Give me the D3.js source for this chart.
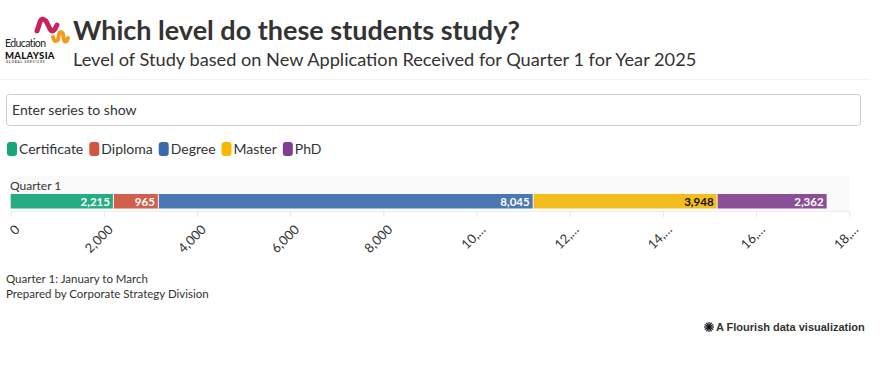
<!DOCTYPE html>
<html>
<head>
<meta charset="utf-8">
<script src="https://cdn.jsdelivr.net/npm/d3@7"></script>
<style>
  html, body { margin: 0; padding: 0; background: #fff; }
  body { width: 891px; height: 369px; overflow: hidden; font-family: Lato, "Open Sans", sans-serif; color: #333; }
  svg { display: block; }
</style>
</head>
<body>
<svg id="chart" width="891" height="369"></svg>
<script>
// ---- data ----
const categories = ["Quarter 1"];
const seriesNames = ["Certificate", "Diploma", "Degree", "Master", "PhD"];
const seriesValues = [[2215], [965], [8045], [3948], [2362]];   // one value per category
const seriesColors = ["#27ab83", "#d05f4b", "#4a78b3", "#f3bd1e", "#8a4f96"];
const legendColors = ["#16a67a", "#d1553f", "#3b69ad", "#f5ba00", "#7d3f92"];
const labelColors = ["#fff", "#fff", "#fff", "#111", "#fff"];
const xTicks = [0, 2000, 4000, 6000, 8000, 10000, 12000, 14000, 16000, 18000];

const svg = d3.select("#chart");
const fmt = d3.format(",");

// ---- header / logo ----
const logo = svg.append("g");
logo.append("path")
  .attr("d", "M37,31 L40,22 Q42,17 46,21 L50,29 Q52,33 55,29 L57,25")
  .attr("fill", "none").attr("stroke", "#c8235a").attr("stroke-width", 5)
  .attr("stroke-linecap", "round").attr("stroke-linejoin", "round");
logo.append("path")
  .attr("d", "M53,37 Q54,43 58,40 L59,34 Q61,30 63,34 L64,40 Q66,44 68,38")
  .attr("fill", "none").attr("stroke", "#f29c1f").attr("stroke-width", 4)
  .attr("stroke-linecap", "round").attr("stroke-linejoin", "round");
logo.append("text").attr("x", 5).attr("y", 47).attr("font-size", 10.5).attr("letter-spacing", -0.6)
  .attr("fill", "#222").text("Education");
logo.append("text").attr("x", 5).attr("y", 58.5).attr("font-size", 9.5).attr("font-weight", 900)
  .attr("letter-spacing", 0.3).attr("fill", "#111").text("MALAYSIA");
logo.append("text").attr("x", 6).attr("y", 63).attr("font-size", 3).attr("font-weight", 700)
  .attr("letter-spacing", 0.9).attr("fill", "#444").text("GLOBAL SERVICES");

svg.append("text").attr("x", 73).attr("y", 40).attr("font-size", 27).attr("font-weight", 700)
  .attr("fill", "#333").text("Which level do these students study?");
svg.append("text").attr("x", 73).attr("y", 66).attr("font-size", 18.2)
  .attr("fill", "#333").text("Level of Study based on New Application Received for Quarter 1 for Year 2025");
svg.append("line").attr("x1", 0).attr("x2", 870).attr("y1", 79.5).attr("y2", 79.5)
  .attr("stroke", "#f3f3f3");

// ---- search box ----
svg.append("rect").attr("x", 6.5).attr("y", 94.5).attr("width", 854).attr("height", 31).attr("rx", 3)
  .attr("fill", "#fff").attr("stroke", "#ccc");
svg.append("text").attr("x", 12).attr("y", 115).attr("font-size", 14).attr("fill", "#333")
  .text("Enter series to show");

// ---- legend ----
const legend = svg.append("g").attr("transform", "translate(7,142)");
let lx = 0;
seriesNames.forEach((name, i) => {
  const g = legend.append("g").attr("transform", `translate(${lx},0)`);
  g.append("rect").attr("x", 0).attr("y", 0).attr("width", 10).attr("height", 14).attr("rx", 3)
    .attr("fill", legendColors[i]);
  const t = g.append("text").attr("x", 12).attr("y", 12).attr("font-size", 14).attr("fill", "#333").text(name);
  lx += 12 + t.node().getComputedTextLength() + 6;
});

// ---- chart ----
const x = d3.scaleLinear().domain([0, 18000]).range([10.7, 849.3]);
const y = d3.scaleBand().domain(categories).range([176, 211]);

svg.append("rect").attr("x", x(0)).attr("y", y.range()[0]).attr("width", x(18000) - x(0))
  .attr("height", y.range()[1] - y.range()[0]).attr("fill", "#fafafa");

const axis = svg.append("g").attr("transform", `translate(0,${y.range()[1]})`)
  .call(d3.axisBottom(x).tickValues(xTicks).tickSize(6).tickSizeOuter(0)
    .tickFormat(d => { const s = fmt(d); return s.length > 5 ? s.slice(0, 3) + "…" : s; }));
axis.select(".domain").attr("stroke", "#eee");
axis.selectAll(".tick line").attr("stroke", "#e6e6e6");
axis.selectAll(".tick text")
  .attr("font-family", "Lato, sans-serif").attr("font-size", 13).attr("fill", "#333")
  .attr("text-anchor", "end").attr("dx", 0).attr("dy", 0)
  .attr("transform", "translate(3,13) rotate(-45)");

categories.forEach((cat, ci) => {
  svg.append("text").attr("x", 10).attr("y", y(cat) + 14).attr("font-size", 12).attr("fill", "#333").text(cat);
  let acc = 0;
  seriesNames.forEach((name, si) => {
    const v = seriesValues[si][ci];
    const x0 = x(acc), x1 = x(acc + v);
    svg.append("rect").attr("x", x0).attr("y", y(cat) + 18).attr("width", x1 - x0 - 1).attr("height", 14.5)
      .attr("fill", seriesColors[si]);
    svg.append("text").attr("x", x1 - 4).attr("y", y(cat) + 29.5).attr("text-anchor", "end")
      .attr("font-size", 11.5).attr("font-weight", 700).attr("fill", labelColors[si]).text(fmt(v));
    acc += v;
  });
});

// ---- footer ----
svg.append("text").attr("x", 6).attr("y", 283).attr("font-size", 11.5).attr("fill", "#333")
  .text("Quarter 1: January to March");
svg.append("text").attr("x", 6).attr("y", 298).attr("font-size", 11.5).attr("fill", "#333")
  .text("Prepared by Corporate Strategy Division");

const fl = svg.append("g").attr("transform", "translate(709,327)");
d3.range(6).forEach(i => {
  const a = i * Math.PI / 6;
  fl.append("line").attr("x1", -5 * Math.cos(a)).attr("y1", -5 * Math.sin(a))
    .attr("x2", 5 * Math.cos(a)).attr("y2", 5 * Math.sin(a)).attr("stroke", "#111").attr("stroke-width", 1.2);
});
fl.append("text").attr("x", 7).attr("y", 4).attr("font-family", "Liberation Sans, Arial, sans-serif")
  .attr("font-size", 11).attr("font-weight", 700).attr("fill", "#333").text("A Flourish data visualization");
</script>
</body>
</html>
